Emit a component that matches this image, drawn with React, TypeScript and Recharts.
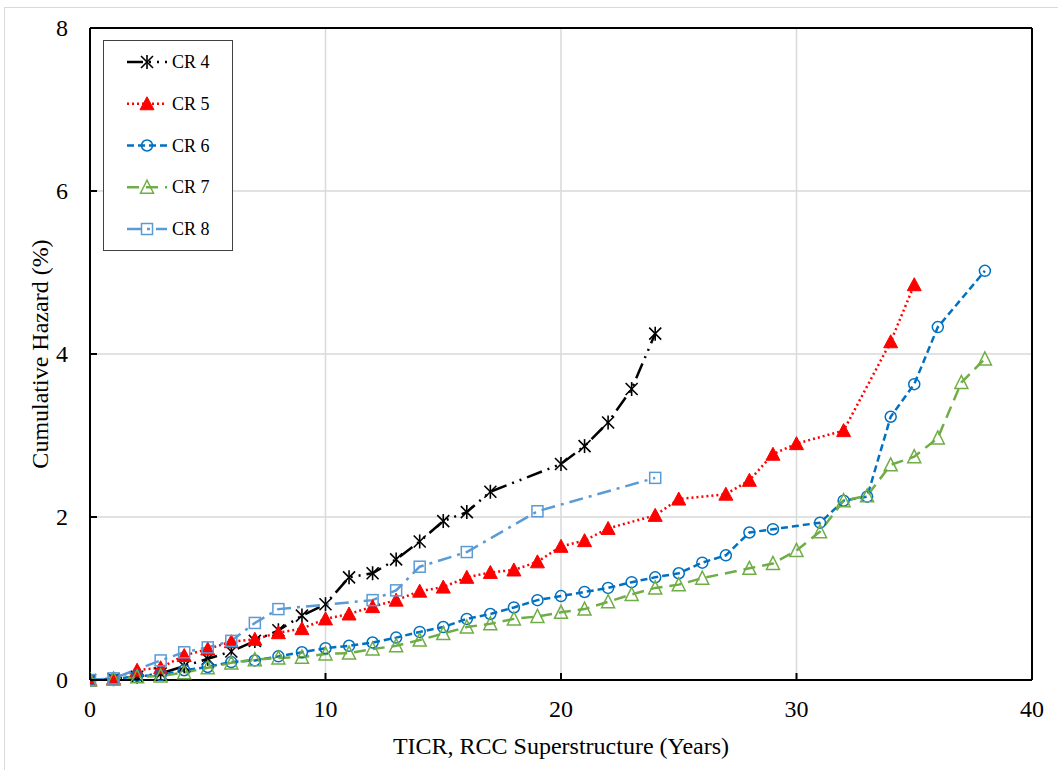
import React from "react";
import {
  LineChart,
  Line,
  XAxis,
  YAxis,
  CartesianGrid,
  Legend,
  ReferenceLine,
  Label,
} from "recharts";

const FONT = '"Liberation Serif", "Times New Roman", serif';

const xTicks = [0, 10, 20, 30, 40];
const yTicks = [0, 2, 4, 6, 8];

// CR 4
const cr4Years = [0, 1, 2, 3, 4, 5, 6, 7, 8, 9, 10, 11, 12, 13, 14, 15, 16, 17, 20, 21, 22, 23, 24];
const cr4Hazard = [0, 0.01, 0.04, 0.08, 0.17, 0.26, 0.35, 0.48, 0.61, 0.79, 0.93, 1.26, 1.31, 1.48, 1.7, 1.95, 2.06, 2.31, 2.65, 2.87, 3.16, 3.57, 4.25];

// CR 5
const cr5Years = [0, 1, 2, 3, 4, 5, 6, 7, 8, 9, 10, 11, 12, 13, 14, 15, 16, 17, 18, 19, 20, 21, 22, 24, 25, 27, 28, 29, 30, 32, 34, 35];
const cr5Hazard = [0, 0.02, 0.12, 0.15, 0.3, 0.38, 0.47, 0.5, 0.58, 0.63, 0.75, 0.81, 0.9, 0.98, 1.09, 1.14, 1.26, 1.32, 1.35, 1.45, 1.64, 1.71, 1.86, 2.02, 2.22, 2.28, 2.45, 2.77, 2.9, 3.06, 4.15, 4.85];

// CR 6
const cr6Years = [0, 1, 2, 3, 4, 5, 6, 7, 8, 9, 10, 11, 12, 13, 14, 15, 16, 17, 18, 19, 20, 21, 22, 23, 24, 25, 26, 27, 28, 29, 31, 32, 33, 34, 35, 36, 38];
const cr6Hazard = [0, 0.01, 0.05, 0.06, 0.12, 0.16, 0.22, 0.24, 0.29, 0.34, 0.39, 0.42, 0.46, 0.52, 0.59, 0.65, 0.75, 0.81, 0.89, 0.98, 1.03, 1.08, 1.13, 1.2, 1.26, 1.31, 1.44, 1.53, 1.81, 1.85, 1.93, 2.2, 2.25, 3.23, 3.63, 4.33, 5.02];

// CR 7
const cr7Years = [0, 1, 2, 3, 4, 5, 6, 7, 8, 9, 10, 11, 12, 13, 14, 15, 16, 17, 18, 19, 20, 21, 22, 23, 24, 25, 26, 28, 29, 30, 31, 32, 33, 34, 35, 36, 37, 38];
const cr7Hazard = [0, 0.01, 0.04, 0.05, 0.09, 0.15, 0.21, 0.25, 0.27, 0.28, 0.32, 0.33, 0.38, 0.42, 0.49, 0.57, 0.65, 0.69, 0.75, 0.78, 0.83, 0.87, 0.96, 1.05, 1.13, 1.17, 1.25, 1.37, 1.43, 1.59, 1.82, 2.2, 2.26, 2.64, 2.74, 2.97, 3.65, 3.94];

// CR 8
const cr8Years = [0, 1, 3, 4, 5, 6, 7, 8, 12, 13, 14, 16, 19, 24];
const cr8Hazard = [0, 0.02, 0.24, 0.34, 0.4, 0.48, 0.7, 0.87, 0.98, 1.1, 1.39, 1.57, 2.07, 2.48];

const toRows = (years: number[], vals: number[]) => years.map((t, i) => ({ t, h: vals[i] }));

type Marker = "asterisk" | "triFill" | "circle" | "triOpen" | "square";

function drawMarker(kind: Marker, cx: number, cy: number, color: string, key?: string) {
  switch (kind) {
    case "asterisk":
      return (
        <g key={key} stroke={color} strokeWidth={1.6}>
          <line x1={cx - 6} y1={cy - 6} x2={cx + 6} y2={cy + 6} />
          <line x1={cx - 6} y1={cy + 6} x2={cx + 6} y2={cy - 6} />
          <line x1={cx} y1={cy - 7} x2={cx} y2={cy + 7} />
        </g>
      );
    case "triFill":
      return (
        <polygon
          key={key}
          points={`${cx},${cy - 7} ${cx - 7},${cy + 6} ${cx + 7},${cy + 6}`}
          fill={color}
          stroke={color}
        />
      );
    case "circle":
      return <circle key={key} cx={cx} cy={cy} r={5.5} fill="none" stroke={color} strokeWidth={1.5} />;
    case "triOpen":
      return (
        <polygon
          key={key}
          points={`${cx},${cy - 7} ${cx - 6.5},${cy + 6} ${cx + 6.5},${cy + 6}`}
          fill="none"
          stroke={color}
          strokeWidth={1.5}
        />
      );
    default:
      return (
        <rect key={key} x={cx - 5.5} y={cy - 5.5} width={11} height={11} fill="none" stroke={color} strokeWidth={1.5} />
      );
  }
}

const SERIES = [
  { name: "CR 4", data: toRows(cr4Years, cr4Hazard), color: "#000000", dash: "16 6 2 6 2 6", marker: "asterisk" as Marker },
  { name: "CR 5", data: toRows(cr5Years, cr5Hazard), color: "#ff0000", dash: "2 3", marker: "triFill" as Marker },
  { name: "CR 6", data: toRows(cr6Years, cr6Hazard), color: "#0070c0", dash: "7 4", marker: "circle" as Marker },
  { name: "CR 7", data: toRows(cr7Years, cr7Hazard), color: "#70ad47", dash: "12 7", marker: "triOpen" as Marker },
  { name: "CR 8", data: toRows(cr8Years, cr8Hazard), color: "#5b9bd5", dash: "14 6 3 6", marker: "square" as Marker },
];

const textStyle = { fontFamily: FONT, fontSize: 24, fill: "#000" };

function XTick(props: any) {
  const { x, y, payload } = props;
  return (
    <g>
      <line x1={x} y1={y} x2={x} y2={y - 7} stroke="#000" strokeWidth={2} />
      <text x={x} y={y + 37} textAnchor="middle" style={textStyle}>
        {payload.value}
      </text>
    </g>
  );
}

function YTick(props: any) {
  const { x, y, payload } = props;
  return (
    <g>
      <line x1={x} y1={y} x2={x + 7} y2={y} stroke="#000" strokeWidth={2} />
      <text x={x - 22} y={y + 8} textAnchor="end" style={textStyle}>
        {payload.value}
      </text>
    </g>
  );
}

function LegendBox() {
  return (
    <div
      style={{
        width: 130,
        height: 211,
        border: "1.5px solid #404040",
        background: "#fff",
        boxSizing: "border-box",
      }}
    >
      <svg width={127} height={208} style={{ display: "block" }}>
        {SERIES.map((s, i) => {
          const cy = 21 + i * 41.75;
          return (
            <g key={s.name}>
              <line x1={23} y1={cy} x2={63} y2={cy} stroke={s.color} strokeWidth={2.5} strokeDasharray={s.dash} />
              {drawMarker(s.marker, 43, cy, s.color)}
              <text x={68} y={cy + 6} style={{ fontFamily: FONT, fontSize: 18, fill: "#000" }}>
                {s.name}
              </text>
            </g>
          );
        })}
      </svg>
    </div>
  );
}

export default function App() {
  return (
    <div style={{ position: "absolute", left: 0, top: 0, width: 1058, height: 770, background: "#fff", fontFamily: FONT }}>
      <div
        style={{
          position: "absolute",
          left: 4,
          top: 7,
          width: 1058,
          height: 770,
          borderLeft: "1px solid #d9d9d9",
          borderTop: "1px solid #d9d9d9",
        }}
      />
      <LineChart
        width={1058}
        height={770}
        margin={{ top: 28, right: 26, left: 40, bottom: 30 }}
        style={{ position: "absolute", left: 0, top: 0, fontFamily: FONT }}
      >
        <CartesianGrid stroke="#d9d9d9" strokeWidth={1.5} />
        <XAxis
          type="number"
          dataKey="t"
          domain={[0, 40]}
          ticks={xTicks}
          allowDataOverflow
          height={60}
          tickSize={0}
          tickMargin={0}
          tickLine={false}
          tick={<XTick />}
          axisLine={{ stroke: "#000", strokeWidth: 2 }}
        >
          <Label
            content={(p: any) => (
              <text
                x={p.viewBox.x + p.viewBox.width / 2}
                y={p.viewBox.y + 74}
                textAnchor="middle"
                style={textStyle}
              >
                TICR, RCC Superstructure (Years)
              </text>
            )}
          />
        </XAxis>
        <YAxis
          type="number"
          domain={[0, 8]}
          ticks={yTicks}
          width={50}
          tickSize={0}
          tickMargin={0}
          tickLine={false}
          tick={<YTick />}
          axisLine={{ stroke: "#000", strokeWidth: 2 }}
        >
          <Label
            content={(p: any) => {
              const cx = 48;
              const cy = p.viewBox.y + p.viewBox.height / 2;
              return (
                <text
                  x={cx}
                  y={cy}
                  transform={`rotate(-90 ${cx} ${cy})`}
                  textAnchor="middle"
                  style={textStyle}
                >
                  Cumulative Hazard (%)
                </text>
              );
            }}
          />
        </YAxis>
        <ReferenceLine x={40} stroke="#000" strokeWidth={2} />
        <ReferenceLine y={8} stroke="#000" strokeWidth={2} />
        {SERIES.map((s) => (
          <Line
            key={s.name}
            name={s.name}
            data={s.data}
            dataKey="h"
            stroke={s.color}
            strokeWidth={2.5}
            strokeDasharray={s.dash}
            isAnimationActive={false}
            activeDot={false}
            dot={(p: any) => drawMarker(s.marker, p.cx, p.cy, s.color, `${s.name}-${p.index}`)}
          />
        ))}
        <Legend
          layout="horizontal"
          verticalAlign="middle"
          align="center"
          content={<LegendBox />}
          wrapperStyle={{ left: 103, top: 40, width: 130 }}
        />
      </LineChart>
    </div>
  );
}
